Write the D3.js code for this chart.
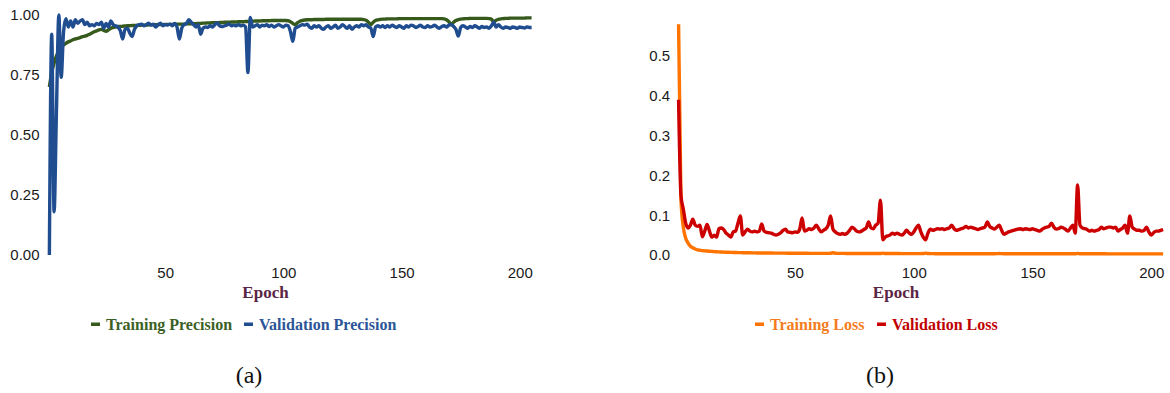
<!DOCTYPE html>
<html>
<head>
<meta charset="utf-8">
<script src="https://cdn.jsdelivr.net/npm/d3@7"></script>
<style>
  html, body { margin: 0; padding: 0; background: #ffffff; }
  svg { display: block; }
</style>
</head>
<body>
<svg id="chart" width="1170" height="393"></svg>
<script>
// Training history, one value per epoch (epochs 1..205)
const trainPrecision = [
  0.70, 0.76, 0.80, 0.83, 0.85, 0.865, 0.875, 0.882, 0.888, 0.892,
  0.897, 0.900, 0.903, 0.906, 0.910, 0.912, 0.915, 0.920, 0.925, 0.930,
  0.934, 0.938, 0.940, 0.936, 0.932, 0.938, 0.945, 0.948, 0.950, 0.952,
  0.952, 0.953, 0.954, 0.955, 0.955, 0.956, 0.956, 0.957, 0.957, 0.958,
  0.958, 0.958, 0.959, 0.959, 0.959, 0.960, 0.960, 0.960, 0.960, 0.961,
  0.961, 0.961, 0.961, 0.962, 0.962, 0.962, 0.962, 0.962, 0.963, 0.963,
  0.963, 0.964, 0.964, 0.965, 0.965, 0.966, 0.966, 0.967, 0.967, 0.968,
  0.968, 0.968, 0.969, 0.969, 0.970, 0.970, 0.970, 0.971, 0.971, 0.971,
  0.972, 0.972, 0.972, 0.973, 0.973, 0.974, 0.974, 0.975, 0.975, 0.975,
  0.976, 0.976, 0.976, 0.976, 0.977, 0.977, 0.977, 0.977, 0.977, 0.977,
  0.977, 0.976, 0.972, 0.965, 0.960, 0.968, 0.974, 0.977, 0.979, 0.980,
  0.980, 0.980, 0.981, 0.981, 0.981, 0.981, 0.981, 0.982, 0.982, 0.982,
  0.982, 0.982, 0.982, 0.982, 0.982, 0.982, 0.982, 0.982, 0.982, 0.982,
  0.982, 0.982, 0.982, 0.981, 0.978, 0.970, 0.960, 0.970, 0.977, 0.980,
  0.982, 0.983, 0.983, 0.984, 0.984, 0.984, 0.984, 0.984, 0.985, 0.985,
  0.985, 0.985, 0.985, 0.985, 0.985, 0.985, 0.985, 0.985, 0.985, 0.985,
  0.985, 0.985, 0.985, 0.985, 0.985, 0.985, 0.985, 0.984, 0.980, 0.972,
  0.960, 0.970, 0.977, 0.981, 0.983, 0.984, 0.985, 0.985, 0.986, 0.986,
  0.986, 0.986, 0.986, 0.986, 0.986, 0.986, 0.985, 0.982, 0.972, 0.978,
  0.982, 0.984, 0.985, 0.986, 0.986, 0.987, 0.987, 0.987, 0.987, 0.987,
  0.987, 0.987, 0.988, 0.988, 0.988
];

const valPrecision = [
  0.00, 0.92, 0.18, 0.60, 1.00, 0.74, 0.93, 0.985, 0.95, 0.975,
  0.95, 0.98, 0.965, 0.975, 0.98, 0.96, 0.97, 0.955, 0.96, 0.955,
  0.965, 0.96, 0.97, 0.945, 0.965, 0.95, 0.975, 0.96, 0.955, 0.95,
  0.935, 0.90, 0.94, 0.945, 0.925, 0.91, 0.94, 0.955, 0.96, 0.962,
  0.955, 0.96, 0.966, 0.958, 0.962, 0.95, 0.96, 0.966, 0.955, 0.96,
  0.958, 0.962, 0.955, 0.965, 0.95, 0.90, 0.945, 0.96, 0.965, 0.98,
  0.97, 0.96, 0.95, 0.96, 0.92, 0.945, 0.95, 0.948, 0.955, 0.95,
  0.96, 0.967, 0.955, 0.952, 0.955, 0.958, 0.962, 0.955, 0.958, 0.955,
  0.96, 0.955, 0.958, 0.95, 0.76, 0.99, 0.95, 0.955, 0.96, 0.95,
  0.958, 0.955, 0.96, 0.952, 0.958, 0.95, 0.955, 0.96, 0.955, 0.95,
  0.958, 0.955, 0.93, 0.89, 0.945, 0.95, 0.955, 0.96, 0.958, 0.962,
  0.95, 0.945, 0.955, 0.95, 0.955, 0.945, 0.94, 0.95, 0.955, 0.945,
  0.95, 0.958, 0.945, 0.95, 0.96, 0.952, 0.945, 0.955, 0.94, 0.95,
  0.955, 0.95, 0.96, 0.955, 0.96, 0.95, 0.945, 0.91, 0.95, 0.955,
  0.95, 0.955, 0.948, 0.955, 0.95, 0.958, 0.952, 0.948, 0.955, 0.95,
  0.945, 0.955, 0.95, 0.958, 0.955, 0.948, 0.952, 0.958, 0.95, 0.948,
  0.955, 0.95, 0.952, 0.958, 0.95, 0.945, 0.952, 0.955, 0.95, 0.958,
  0.96, 0.952, 0.94, 0.912, 0.948, 0.955, 0.95, 0.945, 0.952, 0.948,
  0.955, 0.95, 0.945, 0.952, 0.948, 0.95, 0.945, 0.955, 0.97, 0.95,
  0.96, 0.95, 0.945, 0.95, 0.948, 0.945, 0.95, 0.948, 0.945, 0.95,
  0.948, 0.946, 0.95, 0.948, 0.948
];

const trainLoss = [
  0.58, 0.14, 0.07, 0.042, 0.03, 0.022, 0.018, 0.015, 0.013, 0.012,
  0.011, 0.0105, 0.010, 0.0095, 0.009, 0.0085, 0.008, 0.0078, 0.0075, 0.0072,
  0.007, 0.0068, 0.0066, 0.0064, 0.0062, 0.006, 0.006, 0.0058, 0.0057, 0.0056,
  0.0055, 0.0054, 0.0053, 0.0052, 0.0052, 0.0051, 0.005, 0.005, 0.0049, 0.0049,
  0.0048, 0.0048, 0.0047, 0.0047, 0.0046, 0.0046, 0.0045, 0.0045, 0.0045, 0.0044,
  0.0044, 0.0044, 0.0043, 0.0043, 0.0043, 0.0042, 0.0042, 0.0042, 0.0042, 0.0041,
  0.0041, 0.0041, 0.0041, 0.004, 0.0045, 0.0055, 0.0045, 0.004, 0.004, 0.004,
  0.004, 0.0039, 0.0039, 0.0039, 0.0039, 0.0038, 0.0038, 0.0038, 0.0038, 0.0038,
  0.0037, 0.0037, 0.0037, 0.0037, 0.0037, 0.0038, 0.0048, 0.0038, 0.0036, 0.0036,
  0.0036, 0.0036, 0.0036, 0.0036, 0.0035, 0.0035, 0.0035, 0.0035, 0.0035, 0.0035,
  0.0034, 0.0034, 0.0034, 0.0036, 0.0046, 0.0036, 0.0034, 0.0034, 0.0033, 0.0033,
  0.0033, 0.0033, 0.0033, 0.0033, 0.0033, 0.0033, 0.0033, 0.0033, 0.0033, 0.0033,
  0.0032, 0.0032, 0.0032, 0.0032, 0.0032, 0.0032, 0.0032, 0.0032, 0.0032, 0.0032,
  0.0032, 0.0032, 0.0032, 0.0032, 0.0034, 0.0038, 0.0034, 0.0032, 0.0031, 0.0031,
  0.0031, 0.0031, 0.0031, 0.0031, 0.0031, 0.0031, 0.0031, 0.0031, 0.0031, 0.0031,
  0.003, 0.003, 0.003, 0.003, 0.003, 0.003, 0.003, 0.003, 0.003, 0.003,
  0.003, 0.003, 0.003, 0.003, 0.003, 0.003, 0.003, 0.0032, 0.0042, 0.0032,
  0.003, 0.003, 0.003, 0.003, 0.003, 0.003, 0.003, 0.003, 0.003, 0.003,
  0.003, 0.0029, 0.0029, 0.0029, 0.0029, 0.0029, 0.0029, 0.0029, 0.0029, 0.0029,
  0.0029, 0.0029, 0.0029, 0.0029, 0.0029, 0.0029, 0.0029, 0.0029, 0.0029, 0.0029,
  0.0029, 0.0029, 0.0029, 0.0029, 0.0029
];

const valLoss = [
  0.39, 0.15, 0.115, 0.08, 0.068, 0.075, 0.09, 0.075, 0.072, 0.075,
  0.046, 0.06, 0.077, 0.06, 0.045, 0.05, 0.045, 0.066, 0.068, 0.064,
  0.055, 0.05, 0.045, 0.058, 0.06, 0.08, 0.098, 0.05, 0.058, 0.065,
  0.06, 0.058, 0.06, 0.058, 0.06, 0.078, 0.06, 0.057, 0.056, 0.055,
  0.052, 0.05, 0.052, 0.056, 0.062, 0.065, 0.058, 0.057, 0.056, 0.058,
  0.057, 0.065, 0.093, 0.06, 0.062, 0.066, 0.064, 0.068, 0.075, 0.066,
  0.058, 0.062, 0.066, 0.075, 0.098, 0.065, 0.058, 0.054, 0.052, 0.054,
  0.052, 0.055, 0.062, 0.07, 0.066, 0.06, 0.058, 0.06, 0.064, 0.068,
  0.083, 0.068, 0.066, 0.075, 0.08, 0.138, 0.038, 0.045, 0.048, 0.05,
  0.055, 0.052, 0.055, 0.052, 0.05, 0.055, 0.062, 0.056, 0.052, 0.058,
  0.068, 0.075, 0.058, 0.045, 0.038, 0.055, 0.065, 0.062, 0.064, 0.066,
  0.065, 0.066, 0.064, 0.066, 0.068, 0.075, 0.066, 0.062, 0.064, 0.066,
  0.068, 0.072, 0.068, 0.07, 0.068, 0.066, 0.064, 0.066, 0.068, 0.07,
  0.083, 0.072, 0.068, 0.065, 0.07, 0.075, 0.062, 0.052, 0.055, 0.058,
  0.06, 0.062, 0.064, 0.065, 0.066, 0.064, 0.066, 0.065, 0.064, 0.066,
  0.064, 0.062, 0.06, 0.064, 0.068, 0.07, 0.072, 0.08, 0.07, 0.065,
  0.066, 0.07, 0.068, 0.064, 0.06, 0.068, 0.075, 0.055, 0.176, 0.075,
  0.068, 0.066, 0.064, 0.06, 0.062, 0.06, 0.062, 0.064, 0.07, 0.066,
  0.068, 0.07, 0.07, 0.068, 0.07, 0.06, 0.064, 0.068, 0.075, 0.055,
  0.098, 0.07, 0.065, 0.062, 0.062, 0.06, 0.062, 0.07, 0.058, 0.05,
  0.056, 0.06, 0.06, 0.062, 0.064
];

const precisionTicks = [0, 0.25, 0.5, 0.75, 1.0];
const lossTicks = [0, 0.1, 0.2, 0.3, 0.4, 0.5];
const epochTicks = [50, 100, 150, 200];

const svg = d3.select("#chart");
svg.append("rect").attr("width", 1170).attr("height", 393).attr("fill", "#ffffff");

const sansFont = "'Liberation Sans', Arial, sans-serif";
const serifFont = "'Liberation Serif', 'Times New Roman', serif";

function drawPanel(cfg) {
  const x = d3.scaleLinear().domain([0, 205]).range([cfg.left, cfg.right]);
  const y = d3.scaleLinear().domain(cfg.yDomain).range([255, cfg.yTop]);
  const g = svg.append("g");

  // y axis labels only
  const yAxis = g.append("g")
    .attr("transform", `translate(${cfg.left},0)`)
    .call(d3.axisLeft(y).tickValues(cfg.yTicks).tickFormat(d3.format(cfg.yFormat))
      .tickSize(0).tickPadding(cfg.yPad));
  yAxis.select(".domain").remove();
  yAxis.selectAll("text")
    .attr("font-family", sansFont).attr("font-size", 15).attr("fill", "#1a1a1a");

  // x axis labels only
  const xAxis = g.append("g")
    .attr("transform", "translate(0,255)")
    .call(d3.axisBottom(x).tickValues(epochTicks).tickFormat(d3.format("d"))
      .tickSize(0).tickPadding(12));
  xAxis.select(".domain").remove();
  xAxis.selectAll("text")
    .attr("font-family", sansFont).attr("font-size", 15).attr("fill", "#1a1a1a");

  const line = d3.line()
    .curve(d3.curveMonotoneX)
    .x((d, i) => x(i + 1))
    .y(d => y(d));

  cfg.series.forEach(s => {
    g.append("path")
      .datum(s.values)
      .attr("fill", "none")
      .attr("stroke", s.color)
      .attr("stroke-width", 3.4)
      .attr("stroke-linejoin", "round")
      .attr("d", line);
  });

  g.append("text")
    .attr("x", cfg.epochX).attr("y", 298)
    .attr("text-anchor", "middle")
    .attr("font-family", serifFont).attr("font-weight", "bold")
    .attr("font-size", 17).attr("fill", "#5b2546")
    .text("Epoch");

  cfg.series.forEach(s => {
    g.append("rect")
      .attr("x", s.legendX).attr("y", 322.5)
      .attr("width", 9).attr("height", 3.5)
      .attr("fill", s.color);
    g.append("text")
      .attr("x", s.legendX + 15).attr("y", 329.5)
      .attr("font-family", serifFont).attr("font-weight", "bold")
      .attr("font-size", 16).attr("fill", s.textColor)
      .text(s.name);
  });

  g.append("text")
    .attr("x", cfg.captionX).attr("y", 383)
    .attr("text-anchor", "middle")
    .attr("font-family", serifFont).attr("font-size", 24).attr("fill", "#111")
    .text(cfg.caption);
}

drawPanel({
  left: 47, right: 531.6, yDomain: [0, 1], yTop: 15,
  yTicks: precisionTicks, yFormat: ".2f", yPad: 7.5,
  epochX: 265.5, captionX: 249, caption: "(a)",
  series: [
    { name: "Training Precision", values: trainPrecision, color: "#365a1c", textColor: "#3b6024", legendX: 91 },
    { name: "Validation Precision", values: valPrecision, color: "#1f4d90", textColor: "#2c5597", legendX: 244 }
  ]
});

drawPanel({
  left: 676.2, right: 1163.1, yDomain: [0, 0.6], yTop: 16.2,
  yTicks: lossTicks, yFormat: ".1f", yPad: 6,
  epochX: 896, captionX: 880, caption: "(b)",
  series: [
    { name: "Training Loss", values: trainLoss, color: "#ff7300", textColor: "#f47c20", legendX: 755 },
    { name: "Validation Loss", values: valLoss, color: "#cc0000", textColor: "#c00000", legendX: 877 }
  ]
});
</script>
</body>
</html>
